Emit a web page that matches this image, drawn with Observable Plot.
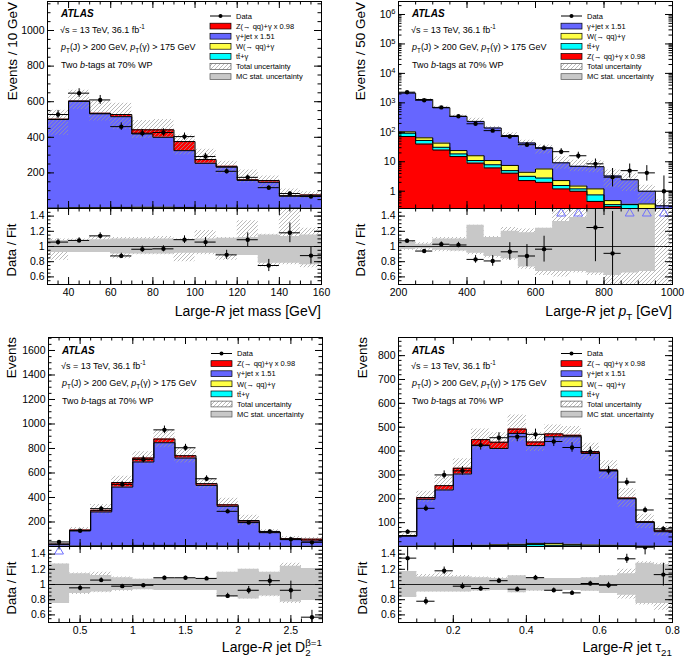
<!DOCTYPE html>
<html>
<head>
<meta charset="utf-8">
<script src="https://cdn.jsdelivr.net/npm/d3@7"></script>
<script src="https://cdn.jsdelivr.net/npm/@observablehq/plot@0.6"></script>
<style>
html,body{margin:0;padding:0;background:#fff;}
#fig{position:relative;width:685px;height:664px;overflow:hidden;background:#fff;font-family:"Liberation Sans",Arial,Helvetica,sans-serif;}
#fig svg{position:absolute;}
</style>
</head>
<body>
<div id="fig">
<svg width="0" height="0" style="left:0;top:0"><defs>
<pattern id="hatch" patternUnits="userSpaceOnUse" width="4" height="4">
<path d="M-1,1 l2,-2 M0,4 l4,-4 M3,5 l2,-2" stroke="#9c9c9c" stroke-width="0.7" fill="none"/>
</pattern></defs></svg>
</div>
<script>
const FONT = '"Liberation Sans", Arial, Helvetica, sans-serif';
const COLORS = {Z: "#ff0000", GJ: "#6666ff", W: "#ffff44", TT: "#00ffff", stat: "#c8c8c8", tri: "#6f6fff"};

// ---------------- Panel 1: large-R jet mass ----------------
const massEdges = [30,40,50,60,70,80,90,100,110,120,130,140,150,160];
const massTTbarGamma = [1,2,2,2,2,2,2,1,1,1,1,1,0.5];
const massWGamma = [1,2,2,4,5,5,4,3,2,1,1,1,0.5];
const massGammaJet = [498,598,528,510,412,393,319,250,229,156,145,67,70];
const massZGamma = [2,2,3,12,23,42,51,21,5,3,10,3,5];
const massData = [528,648,610,460,423,427,404,292,209,175,117,84,67];
const massDataErr = [23,25,25,21,21,21,20,17,14,13,11,9,8];
const massRatio = [1.058,1.08,1.14,0.876,0.964,0.969,1.09,1.058,0.89,1.089,0.75,1.18,0.88];
const massRatioErr = [0.04,0.035,0.04,0.035,0.04,0.04,0.05,0.06,0.06,0.09,0.08,0.13,0.11];
const massTotUp = [1.10,1.10,1.13,1.12,1.12,1.13,1.10,1.21,1.12,1.34,1.16,1.52,1.24];
const massTotDn = [0.82,0.92,0.92,0.84,0.89,0.89,0.80,0.89,0.82,0.89,0.73,0.76,0.72];
const massStatUp = [1.08,1.08,1.09,1.10,1.10,1.10,1.09,1.10,1.11,1.12,1.15,1.13,1.15];
const massStatDn = [0.92,0.92,0.92,0.90,0.90,0.90,0.91,0.91,0.89,0.88,0.78,0.78,0.76];

// ---------------- Panel 2: large-R jet pT ----------------
const ptEdges = [200,250,300,350,400,450,500,550,600,650,700,750,800,850,900,950,1000];
const ptZGamma = [72,40,25,15,9,6.2,4.1,2.3,2.0,1.2,1.0,0.45,0.30,0.10,0.12,0.05];
const ptTTbarGamma = [21,13,6,3.5,2,1.7,0.9,0.9,0.8,0.36,0.2,0.3,0.05,0.25,0.03,0.01];
const ptWGamma = [11,12,12,5.5,5,3.1,2.5,1.2,2.9,0.74,0.3,0.45,0.13,0.01,0.22,0.01];
const ptGammaJet = [2036,1235,637,321,219,129,70,39,24,6.9,5.5,5.6,2.8,2.1,0.63,0.25];
const ptData = [2300,1225,700,352,195,114,72,38,29,22,16,8.5,3,5,4.2,1];
const ptDataErrUp = [48,35,26,19,14,11,9,7,6,5.8,5.1,3.9,2.9,3.4,3.2,2.3];
const ptDataErrDn = [48,35,26,19,14,11,8,6,5.3,4.6,3.9,2.8,1.6,2.2,2.0,0.83];
const ptRatio = [1.075,0.94,1.03,1.02,0.83,0.81,0.93,0.875,0.965,2.56,2.29,1.25,0.91,2.03,4.2,3.1];
const ptRatioErrUp = [0.02,0.02,0.03,0.035,0.05,0.07,0.12,0.15,0.17,0.6,0.6,0.45,0.55,0.8,1.5,2];
const ptRatioErrDn = [0.02,0.02,0.03,0.035,0.05,0.07,0.11,0.14,0.17,0.5,0.5,0.45,0.45,0.6,1,1.5];
const ptTotUp = [1.07,1.05,1.12,1.12,1.28,1.13,1.25,1.23,1.24,1.6,1.6,1.6,1.6,1.6,1.6,1.6];
const ptTotDn = [0.95,0.95,0.93,0.93,0.89,0.85,0.82,0.70,0.62,0.60,0.65,0.62,0.40,0.40,0.40,0.40];
const ptStatUp = [1.06,1.03,1.10,1.10,1.28,1.12,1.20,1.18,1.24,1.33,1.38,1.6,1.6,1.6,1.6,1.0];
const ptStatDn = [0.96,0.97,0.95,0.94,0.91,0.87,0.84,0.73,0.67,0.67,0.67,0.65,0.62,0.65,0.67,1.0];

// ---------------- Panel 3: large-R jet D2 ----------------
const d2Edges = [0.2,0.4,0.6,0.8,1.0,1.2,1.4,1.6,1.8,2.0,2.2,2.4,2.6,2.8];
const d2TTbarGamma = [0.5,1,2,3,4,4,3,2,1,1,0.5,0.5,0.5];
const d2WGamma = [1,2,3,4,5,5,4,3,2,2,1,1,1];
const d2GammaJet = [16.5,125,277,478,681,838,715,494,325,197,111.5,54.5,43.5];
const d2ZGamma = [2,6,13,37,32,30,19,14,12,12,5,8,15];
const d2Data = [37,129,309,507,711,952,806,553,287,195,123,59,34];
const d2DataErr = [6,11,18,22,27,31,28,24,17,14,11,8,6];
const d2Ratio = [1.85,0.956,1.058,0.978,0.99,1.089,1.089,1.08,0.85,0.924,1.05,0.924,0.57];
const d2RatioErr = [0.3,0.04,0.03,0.025,0.02,0.02,0.02,0.025,0.035,0.05,0.075,0.12,0.09];
const d2TotUp = [1.27,1.15,1.16,1.10,1.07,1.08,1.08,1.08,1.16,1.20,1.16,1.28,1.21];
const d2TotDn = [0.75,0.87,0.89,0.91,0.93,0.92,0.92,0.92,0.84,0.81,0.84,0.75,0.79];
const d2StatUp = [1.27,1.14,1.12,1.09,1.07,1.08,1.08,1.08,1.16,1.20,1.16,1.24,1.21];
const d2StatDn = [0.75,0.88,0.90,0.92,0.93,0.92,0.92,0.92,0.84,0.81,0.85,0.77,0.79];

// ---------------- Panel 4: large-R jet tau21 ----------------
const tauEdges = [0.05,0.10,0.15,0.20,0.25,0.30,0.35,0.40,0.45,0.50,0.55,0.60,0.65,0.70,0.75,0.80];
const tauTTbarGamma = [0.5,1,1,2,3,4,5,8,5,3,2,2,1,0.5,0.5];
const tauWGamma = [0.5,1,1,2,2,3,4,5,8,6,4,3,2,1,0.5];
const tauGammaJet = [42,196,235,300,418,404,465,410,447,451,384,312,197,99.5,61];
const tauZGamma = [3,7,18,24,25,26,18,15,12,6,7,4,3,3,4];
const tauData = [62,160,300,317,425,456,460,470,440,415,397,318,270,153,74];
const tauDataErr = [8,13,17,18,21,21,21,22,21,20,20,18,16,12,9];
const tauRatio = [1.347,0.78,1.18,0.978,0.947,1.05,0.938,1.09,0.924,0.89,1.013,0.99,1.338,1.49,1.13];
const tauRatioErr = [0.17,0.05,0.05,0.04,0.03,0.03,0.03,0.03,0.03,0.03,0.03,0.04,0.06,0.1,0.15];
const tauTotUp = [1.17,1.13,1.15,1.12,1.10,1.09,1.12,1.09,1.08,1.08,1.09,1.12,1.20,1.30,1.28];
const tauTotDn = [0.83,0.90,0.90,0.90,0.91,0.92,0.89,0.91,0.92,0.92,0.91,0.88,0.81,0.73,0.66];
const tauStatUp = [1.17,1.10,1.10,1.10,1.09,1.08,1.115,1.09,1.08,1.08,1.09,1.115,1.14,1.28,1.26];
const tauStatDn = [0.83,0.90,0.90,0.90,0.915,0.92,0.89,0.915,0.92,0.92,0.91,0.88,0.86,0.75,0.75];

// ---------------- tick labels ----------------
const massXLabels = [40,60,80,100,120,140,160];
const massYLabels = [200,400,600,800,1000];
const ptXLabels = [200,400,600,800,1000];
const ptYLabels = [1,10,100,1000,10000,100000,1000000];
const d2XLabels = [0.5,1,1.5,2,2.5];
const d2YLabels = [200,400,600,800,1000,1200,1400,1600];
const tauXLabels = [0.2,0.4,0.6,0.8];
const tauYLabels = [100,200,300,400,500,600,700,800];
const ratioYLabels = [0.6,0.8,1,1.2,1.4];

// ---------------- legend labels ----------------
const labZ = "Z(\u2192 qq)+\u03b3 x 0.98";
const labGJ = "\u03b3+jet x 1.51";
const labW = "W(\u2192 qq)+\u03b3";
const labTT = "tt\u0304+\u03b3";
const labTot = "Total uncertainty";
const labStat = "MC stat. uncertainty";

const fig = d3.select("#fig");
const steps = (a, b, s) => { const o = []; const n = Math.round((b - a) / s); for (let k = 0; k <= n; k++) o.push(+(a + k * s).toFixed(6)); return o; };
const logMinor = (lo, hi) => { const o = []; for (let e = -1; e <= 7; e++) for (let k = 1; k <= 9; k++) { const v = k * Math.pow(10, e); if (v >= lo && v <= hi) o.push(v); } return o; };

function frameTicks(xMaj, xMin, yMaj, yMin, W, H) {
  const TL = 7, TS = 3.5, out = [];
  for (const [vals, len] of [[xMaj, TL], [xMin, TS]]) {
    out.push(Plot.tickX(vals, {x: d => d, insetTop: H - len, stroke: "#000", strokeWidth: 1}));
    out.push(Plot.tickX(vals, {x: d => d, insetBottom: H - len, stroke: "#000", strokeWidth: 1}));
  }
  for (const [vals, len] of [[yMaj, TL], [yMin, TS]]) {
    out.push(Plot.tickY(vals, {y: d => d, insetRight: W - len, stroke: "#000", strokeWidth: 1}));
    out.push(Plot.tickY(vals, {y: d => d, insetLeft: W - len, stroke: "#000", strokeWidth: 1}));
  }
  return out;
}

function place(svg, left, top) {
  svg.style.position = "absolute";
  svg.style.left = left + "px";
  svg.style.top = top + "px";
  fig.node().appendChild(svg);
}

// step-shaped rows: one point per lower bin edge plus the closing upper edge
function stepRows(bins, lo, hi) {
  const n = bins.length;
  const rows = bins.map((b, i) => ({x: b.x1, lo: lo[i], hi: hi[i]}));
  rows.push({x: bins[n - 1].x2, lo: lo[n - 1], hi: hi[n - 1]});
  return rows;
}
const stepArea = (rows, fill) => Plot.areaY(rows, {x: "x", y1: "lo", y2: "hi", curve: "step-after", fill, clip: true});

function drawPanel(cfg) {
  const {fx, fy, fw, mainH, ratioH} = cfg;
  const n = cfg.edges.length - 1;
  const bins = d3.range(n).map(i => ({x1: cfg.edges[i], x2: cfg.edges[i + 1], xc: (cfg.edges[i] + cfg.edges[i + 1]) / 2}));
  const yFloor = cfg.log ? cfg.yDomain[0] / 10 : 0;
  let cum = new Array(n).fill(0);
  const fills = [], outlines = [];
  for (const L of cfg.stack) {
    const lo = cum.map(v => v > 0 ? v : yFloor);
    cum = cum.map((c, i) => c + L.values[i]);
    const hi = cum.map(v => Math.max(v, yFloor));
    const rows = stepRows(bins, lo, hi);
    fills.push(stepArea(rows, L.color));
    outlines.push(Plot.line(rows, {x: "x", y: "hi", curve: "step-after", stroke: "#000", strokeWidth: 1, clip: true}));
  }
  const total = cum;
  const band = stepRows(bins, total.map((t, i) => t * cfg.totDn[i]), total.map((t, i) => t * cfg.totUp[i]));
  const dat = bins.map((b, i) => ({...b, v: cfg.data[i], lo: cfg.data[i] - cfg.dataErrDn[i], hi: cfg.data[i] + cfg.dataErrUp[i]}));

  const mL = 46, mR = 8, mT = 4, mB = 3;
  const style = {background: "transparent", overflow: "visible", fontFamily: FONT, fontSize: "10.5px", color: "#000"};
  const main = Plot.plot({
    width: mL + fw + mR, height: mT + mainH + mB,
    marginLeft: mL, marginRight: mR, marginTop: mT, marginBottom: mB,
    style,
    x: {domain: cfg.xDomain, axis: null},
    y: {type: cfg.log ? "log" : "linear", domain: cfg.yDomain, axis: null},
    marks: [
      ...fills,
      stepArea(band, "url(#hatch)"),
      ...outlines,
      Plot.ruleY(dat, {y: "v", x1: "x1", x2: "x2", stroke: "#000", strokeWidth: 1, clip: true}),
      Plot.ruleX(dat, {x: "xc", y1: "lo", y2: "hi", stroke: "#000", strokeWidth: 1, clip: true}),
      Plot.dot(dat, {x: "xc", y: "v", r: 2.2, fill: "#000", clip: true}),
      ...frameTicks(cfg.xMajor, cfg.xMinor, cfg.yMajor, cfg.yMinor, fw, mainH),
      Plot.frame({stroke: "#000", strokeWidth: 1}),
      Plot.axisY(cfg.yLabels, {anchor: "left", tickSize: 0, tickPadding: 3, tickFormat: cfg.yFormat, label: null, fontSize: 10.5})
    ]
  });
  if (cfg.log) {
    d3.select(main).selectAll("text").each(function () {
      const s = this.textContent;
      if (s.startsWith("10^")) {
        const e = s.slice(3);
        const t = d3.select(this); t.text(null);
        t.append("tspan").text("10");
        t.append("tspan").attr("dy", "-0.45em").attr("font-size", "7.5px").text(e);
      }
    });
  }
  place(main, fx - mL, fy - mT);

  const rmT = 2, rmB = 24, rMax = 1.5;
  const rows = bins.map((b, i) => ({...b, r: cfg.ratio[i], eu: cfg.ratioErrUp[i], ed: cfg.ratioErrDn[i]}));
  const inside = rows.filter(d => d.r <= rMax);
  const over = rows.filter(d => d.r > rMax);
  const totBand = stepRows(bins, cfg.totDn, cfg.totUp);
  const statBand = stepRows(bins, cfg.statDn, cfg.statUp);
  const ratio = Plot.plot({
    width: mL + fw + mR, height: rmT + ratioH + rmB,
    marginLeft: mL, marginRight: mR, marginTop: rmT, marginBottom: rmB,
    style,
    x: {domain: cfg.xDomain, axis: null},
    y: {domain: [0.5, 1.5], axis: null},
    marks: [
      stepArea(totBand, "url(#hatch)"),
      stepArea(statBand, COLORS.stat),
      Plot.ruleY([1], {stroke: "#222", strokeWidth: 1}),
      Plot.ruleY(inside, {y: "r", x1: "x1", x2: "x2", stroke: "#000", strokeWidth: 1, clip: true}),
      Plot.ruleX(inside, {x: "xc", y1: d => d.r - d.ed, y2: d => d.r + d.eu, stroke: "#000", strokeWidth: 1, clip: true}),
      Plot.dot(inside, {x: "xc", y: "r", r: 2.2, fill: "#000", clip: true}),
      Plot.dot(over, {x: "xc", y: () => rMax - 0.065, symbol: "triangle", r: 3.3, stroke: COLORS.tri, fill: "none", strokeWidth: 1}),
      ...frameTicks(cfg.xMajor, cfg.xMinor, ratioYLabels, steps(0.5, 1.5, 0.05), fw, ratioH),
      Plot.frame({stroke: "#000", strokeWidth: 1}),
      Plot.axisY(ratioYLabels, {anchor: "left", tickSize: 0, tickPadding: 3, tickFormat: d => String(d), label: null, fontSize: 10.5}),
      Plot.axisX(cfg.xLabels, {anchor: "bottom", tickSize: 0, tickPadding: 4, tickFormat: d => String(d), label: null, fontSize: 10.5})
    ]
  });
  place(ratio, fx - mL, fy + mainH - rmT);
}

const TOP = {fy: 1, mainH: 207, ratioH: 76};
const BOT = {fy: 337, mainH: 209, ratioH: 76};

drawPanel({
  ...TOP, fx: 47, fw: 274, edges: massEdges, xDomain: [30, 160], yDomain: [0, 1163], log: false,
  stack: [{values: massTTbarGamma, color: COLORS.TT}, {values: massWGamma, color: COLORS.W},
          {values: massGammaJet, color: COLORS.GJ}, {values: massZGamma, color: COLORS.Z}],
  data: massData, dataErrUp: massDataErr, dataErrDn: massDataErr,
  ratio: massRatio, ratioErrUp: massRatioErr, ratioErrDn: massRatioErr,
  totUp: massTotUp, totDn: massTotDn, statUp: massStatUp, statDn: massStatDn,
  xMajor: massXLabels, xMinor: steps(30, 160, 5), xLabels: massXLabels,
  yMajor: massYLabels, yMinor: steps(0, 1150, 50), yLabels: massYLabels, yFormat: d => String(d)
});
drawPanel({
  ...TOP, fx: 398, fw: 274, edges: ptEdges, xDomain: [200, 1000], yDomain: [0.259, 2.76e6], log: true,
  stack: [{values: ptZGamma, color: COLORS.Z}, {values: ptTTbarGamma, color: COLORS.TT},
          {values: ptWGamma, color: COLORS.W}, {values: ptGammaJet, color: COLORS.GJ}],
  data: ptData, dataErrUp: ptDataErrUp, dataErrDn: ptDataErrDn,
  ratio: ptRatio, ratioErrUp: ptRatioErrUp, ratioErrDn: ptRatioErrDn,
  totUp: ptTotUp, totDn: ptTotDn, statUp: ptStatUp, statDn: ptStatDn,
  xMajor: ptXLabels, xMinor: steps(200, 1000, 50), xLabels: ptXLabels,
  yMajor: ptYLabels, yMinor: logMinor(0.259, 2.76e6), yLabels: ptYLabels,
  yFormat: d => { const e = Math.round(Math.log10(d)); return e === 0 ? "1" : e === 1 ? "10" : "10^" + e; }
});
drawPanel({
  ...BOT, fx: 48, fw: 274, edges: d2Edges, xDomain: [0.2, 2.8], yDomain: [0, 1706], log: false,
  stack: [{values: d2TTbarGamma, color: COLORS.TT}, {values: d2WGamma, color: COLORS.W},
          {values: d2GammaJet, color: COLORS.GJ}, {values: d2ZGamma, color: COLORS.Z}],
  data: d2Data, dataErrUp: d2DataErr, dataErrDn: d2DataErr,
  ratio: d2Ratio, ratioErrUp: d2RatioErr, ratioErrDn: d2RatioErr,
  totUp: d2TotUp, totDn: d2TotDn, statUp: d2StatUp, statDn: d2StatDn,
  xMajor: d2XLabels, xMinor: steps(0.2, 2.8, 0.1), xLabels: d2XLabels,
  yMajor: d2YLabels, yMinor: steps(0, 1700, 50), yLabels: d2YLabels, yFormat: d => String(d)
});
drawPanel({
  ...BOT, fx: 398, fw: 274, edges: tauEdges, xDomain: [0.05, 0.8], yDomain: [0, 876], log: false,
  stack: [{values: tauTTbarGamma, color: COLORS.TT}, {values: tauWGamma, color: COLORS.W},
          {values: tauGammaJet, color: COLORS.GJ}, {values: tauZGamma, color: COLORS.Z}],
  data: tauData, dataErrUp: tauDataErr, dataErrDn: tauDataErr,
  ratio: tauRatio, ratioErrUp: tauRatioErr, ratioErrDn: tauRatioErr,
  totUp: tauTotUp, totDn: tauTotDn, statUp: tauStatUp, statDn: tauStatDn,
  xMajor: tauXLabels, xMinor: steps(0.05, 0.8, 0.05), xLabels: tauXLabels,
  yMajor: tauYLabels, yMinor: steps(0, 860, 20), yLabels: tauYLabels, yFormat: d => String(d)
});

// ---------------- text overlay ----------------
const ov = fig.append("svg").attr("width", 685).attr("height", 664)
  .style("left", "0px").style("top", "0px").attr("font-family", FONT);

function rich(x, y, parts, opt = {}) {
  const size = opt.size || 9;
  const t = ov.append("text").attr("font-size", size).attr("fill", "#000")
    .attr("text-anchor", opt.anchor || "start").style("white-space", "pre");
  if (opt.rotate) t.attr("transform", `translate(${x},${y}) rotate(${opt.rotate})`);
  else t.attr("x", x).attr("y", y);
  if (opt.weight) t.attr("font-weight", opt.weight);
  if (opt.italic) t.attr("font-style", "italic");
  let cur = 0;
  for (const p of parts) {
    const s = typeof p === "string" ? {t: p} : p;
    const target = s.sub ? 0.3 * size : s.sup ? -0.42 * size : 0;
    const ts = t.append("tspan").text(s.t).attr("dy", target - cur);
    cur = target;
    if (s.sub || s.sup) ts.attr("font-size", size * 0.7);
    if (s.i) ts.attr("font-style", "italic");
    if (s.dx) ts.attr("dx", s.dx);
  }
  return t;
}

function annot(fx, yb) {
  rich(fx + 14, yb, ["ATLAS"], {size: 10, weight: "bold", italic: true});
  rich(fx + 13, yb + 15.4, ["\u221as = 13 TeV, 36.1 fb", {t: "-1", sup: true}], {size: 9});
  rich(fx + 14, yb + 32.7, [{t: "p", i: true}, {t: "T", sub: true}, "(J) > 200 GeV, ", {t: "p", i: true}, {t: "T", sub: true}, "(\u03b3) > 175 GeV"], {size: 9});
  rich(fx + 14, yb + 50.7, ["Two ", {t: "b", i: true}, "-tags at 70% WP"], {size: 9});
}

function legend(fx, y0, entries) {
  entries.forEach((e, i) => {
    const cy = y0 + 10.1 * i, sx = fx + 163, sw = 21, sh = 5.8;
    if (e.kind === "data") {
      ov.append("line").attr("x1", sx).attr("x2", sx + sw).attr("y1", cy).attr("y2", cy).attr("stroke", "#000").attr("stroke-width", 1);
      ov.append("circle").attr("cx", sx + sw / 2).attr("cy", cy).attr("r", 2).attr("fill", "#000");
    } else {
      const r = ov.append("rect").attr("x", sx).attr("y", cy - sh / 2).attr("width", sw).attr("height", sh)
        .attr("stroke-width", 0.7);
      if (e.kind === "box") r.attr("fill", e.fill).attr("stroke", "#000");
      if (e.kind === "hatch") r.attr("fill", "url(#hatch)").attr("stroke", "#555");
      if (e.kind === "stat") r.attr("fill", COLORS.stat).attr("stroke", "#555");
    }
    rich(fx + 189, cy + 2.7, [e.label], {size: 7.5});
  });
}

const legA = [
  {kind: "data", label: "Data"},
  {kind: "box", fill: COLORS.Z, label: labZ},
  {kind: "box", fill: COLORS.GJ, label: labGJ},
  {kind: "box", fill: COLORS.W, label: labW},
  {kind: "box", fill: COLORS.TT, label: labTT},
  {kind: "hatch", label: labTot},
  {kind: "stat", label: labStat}
];
const legB = [
  {kind: "data", label: "Data"},
  {kind: "box", fill: COLORS.GJ, label: labGJ},
  {kind: "box", fill: COLORS.W, label: labW},
  {kind: "box", fill: COLORS.TT, label: labTT},
  {kind: "box", fill: COLORS.Z, label: labZ},
  {kind: "hatch", label: labTot},
  {kind: "stat", label: labStat}
];

annot(47, 17.3); legend(47, 16, legA);
annot(398, 17.3); legend(398, 16, legB);
annot(48, 353.5); legend(48, 353.5, legA);
annot(398, 353.5); legend(398, 353.5, legA);

// axis titles
const XT = 14, YT = 13.5;
rich(321, 316, ["Large-", {t: "R", i: true}, " jet mass [GeV]"], {size: XT, anchor: "end"});
rich(672, 316, ["Large-", {t: "R", i: true}, " jet ", {t: "p", i: true}, {t: "T", sub: true}, " [GeV]"], {size: XT, anchor: "end"});
rich(322, 652, ["Large-", {t: "R", i: true}, " jet D", {t: "2", sub: true}, {t: "\u03b2=1", sup: true, dx: -5.4}], {size: XT, anchor: "end"});
rich(672, 652, ["Large-", {t: "R", i: true}, " jet \u03c4", {t: "21", sub: true}], {size: XT, anchor: "end"});

rich(16.5, 2, ["Events / 10 GeV"], {size: YT, anchor: "end", rotate: -90});
rich(365, 2, ["Events / 50 GeV"], {size: YT, anchor: "end", rotate: -90});
rich(15.5, 337, ["Events"], {size: YT, anchor: "end", rotate: -90});
rich(366.5, 337, ["Events"], {size: YT, anchor: "end", rotate: -90});
rich(15.5, 250, ["Data / Fit"], {size: 13, anchor: "middle", rotate: -90});
rich(365, 250, ["Data / Fit"], {size: 13, anchor: "middle", rotate: -90});
rich(15.5, 588, ["Data / Fit"], {size: 13, anchor: "middle", rotate: -90});
rich(366.5, 588, ["Data / Fit"], {size: 13, anchor: "middle", rotate: -90});
</script>
</body>
</html>
